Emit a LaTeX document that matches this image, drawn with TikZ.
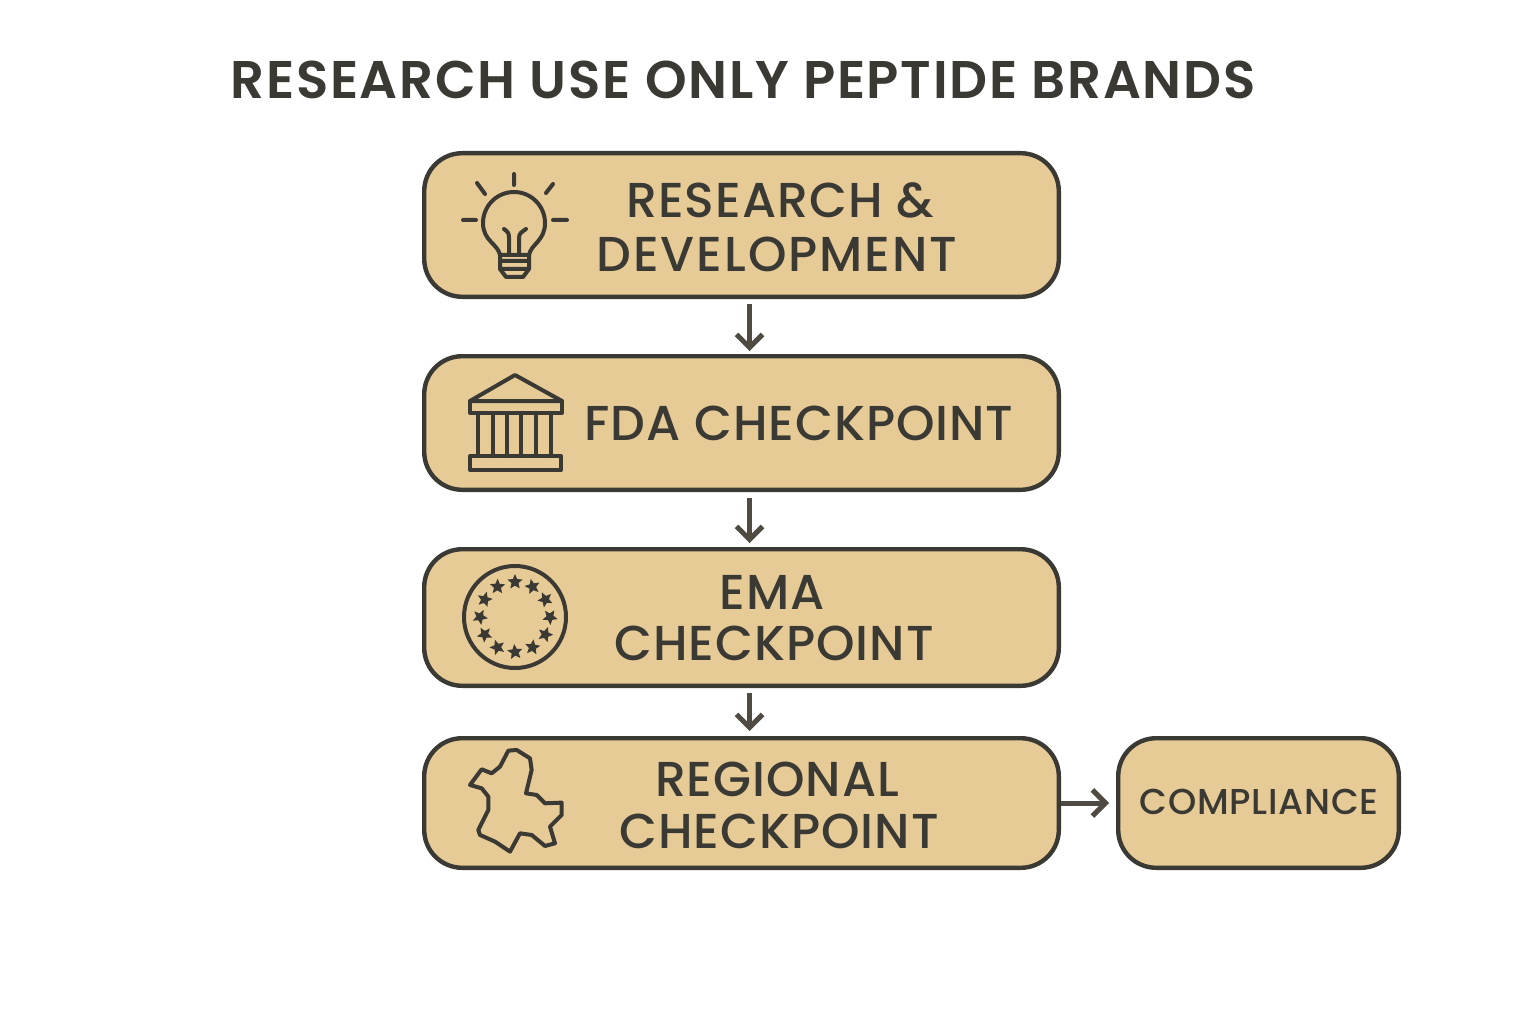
\documentclass[tikz,border=0pt]{standalone}
\usepackage{fontspec}
\usetikzlibrary{arrows.meta,shapes.geometric}
\setmainfont{Poppins}
\newfontfamily\labfont[LetterSpace=2]{Poppins Medium}
\newfontfamily\widefont[LetterSpace=4]{Poppins Medium}
\newfontfamily\titlefont[LetterSpace=3.2]{Poppins SemiBold}
\definecolor{ink}{HTML}{3A3934}
\definecolor{arrowink}{HTML}{4F4B42}
\definecolor{sand}{HTML}{E6CB97}
\newcommand{\fs}[1]{\fontsize{#1}{#1}\selectfont}
\tikzset{
  x=1pt,y=-1pt,
  boxnode/.style={draw=ink,fill=sand,line width=4.4pt,rounded corners=38pt,inner sep=0pt,anchor=north west},
  lab/.style={text=ink,inner sep=0pt,align=center,font=\labfont\fs{49}},
  link/.style={draw=arrowink,line width=5pt,-{Straight Barb[length=13pt,width=26pt,line width=5pt]}},
  icon/.style={draw=ink,line width=4pt,line cap=round,line join=round},
  eustar/.style={star,star points=5,star point ratio=2.2,fill=ink,inner sep=0pt,minimum size=16pt},
}
\begin{document}
\begin{tikzpicture}
\useasboundingbox (0,0) rectangle (1536,1024);
\node[text=ink,font=\titlefont\fs{53},inner sep=0pt] (title) at (743,80) {RESEARCH USE ONLY PEPTIDE BRANDS};
\node[boxnode,minimum width=634.6pt,minimum height=143.6pt] (rd) at (422,151) {};
\node[boxnode,minimum width=634.6pt,minimum height=133.6pt] (fda) at (422,354) {};
\node[boxnode,minimum width=634.6pt,minimum height=136.6pt] (ema) at (422,547) {};
\node[boxnode,minimum width=634.6pt,minimum height=129.6pt] (reg) at (422,736) {};
\node[boxnode,minimum width=280.6pt,minimum height=129.6pt] (comp) at (1116,736) {};
\node[lab] (t1a) at (780,200) {RESEARCH \&};
\node[lab,font=\widefont\fs{49}] (t1b) at (777,254) {DEVELOPMENT};
\node[lab] (t2) at (799,423) {FDA CHECKPOINT};
\node[lab] (t3a) at (772,592) {EMA};
\node[lab] (t3b) at (774,643) {CHECKPOINT};
\node[lab] (t4a) at (777,779) {REGIONAL};
\node[lab] (t4b) at (779,831) {CHECKPOINT};
\node[lab,font=\labfont\fs{36}] (t5) at (1259,802) {COMPLIANCE};
\draw[link] ([xshift=8pt,yshift=-5pt]rd.south) -- ([xshift=8pt,yshift=3pt]fda.north);
\draw[link] ([xshift=8pt,yshift=-6pt]fda.south) -- ([xshift=8pt,yshift=4pt]ema.north);
\draw[link] ([xshift=8pt,yshift=-5pt]ema.south) -- ([xshift=8pt,yshift=5pt]reg.north);
\draw[link] (reg.east) -- ([xshift=-7pt]comp.west);
% bulb
\draw[icon] (514,174)--(514,185) (477,183)--(485,194) (553,184)--(546,193) (463,220)--(476,220) (553,220)--(567,220);
\draw[icon] (500,255) .. controls (498,244) and (483,241) .. (483,223) arc[start angle=180,end angle=360,x radius=31,y radius=31] .. controls (545,241) and (531,244) .. (529,255);
\draw[icon] (500,255) -- (529,255) -- (529,269) -- (523,277) -- (506,277) -- (500,269) -- cycle (500,261)--(529,261) (501,269)--(528,269);
\draw[icon] (504,229) .. controls (508,232) and (509,233) .. (509,238) -- (509,255) (526,229) .. controls (522,232) and (519,233) .. (519,238) -- (519,255);
% bank
\draw[icon] (470,401) -- (515,375) -- (562,401) -- cycle;
\draw[icon] (470,401) rectangle (562,413) (470,456) rectangle (561,470);
\foreach \cx in {478,493,507,521,536,551} \draw[icon] (\cx,413)--(\cx,456);
% EU circle
\draw[icon] (515,617) circle[radius=51];
\foreach \i in {0,...,11} \node[eustar,rotate=13*\i] (s\i) at ({515+35*sin(30*\i)},{617-35*cos(30*\i)}) {};
% region outline
\begin{scope}[shift={(420,540)},x=0.3333pt,y=-0.3333pt]
\draw[icon] (150,735) -- (185,688) -- (215,700) -- (240,680) -- (265,632) -- (290,630) -- (330,655) -- (335,690) -- (318,760) -- (350,765) -- (375,790) -- (425,788) -- (425,825) -- (390,860) -- (405,910) -- (375,918) -- (335,885) -- (300,880) -- (270,935) -- (225,905) -- (180,885) -- (175,870) -- (205,810) -- (205,770) -- (185,745) -- cycle;
\end{scope}
\end{tikzpicture}
\end{document}
